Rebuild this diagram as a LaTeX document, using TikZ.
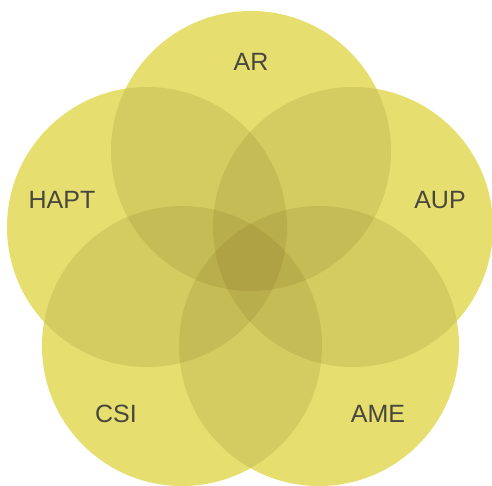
\documentclass[tikz,border=0pt]{standalone}
\usepackage{fontspec}
\setmainfont{Liberation Sans}
\definecolor{basey}{RGB}{250,244,125}
\definecolor{shade}{RGB}{110,95,20}
\definecolor{labelc}{RGB}{72,70,62}
\begin{document}
\begin{tikzpicture}[x=1pt,y=-1pt,
  petal/.style={circle,minimum size=280pt,inner sep=0pt,outer sep=0pt,fill=basey,draw=none},
  tint/.style={fill=shade,fill opacity=0.14},
  lab/.style={text=labelc,font=\fontsize{25}{30}\selectfont,inner sep=0pt}]
\useasboundingbox (0,0) rectangle (492,485);
\clip (0,0) rectangle (492,485);
\node[petal] (ar) at (251,151) {};
\node[petal] (hapt) at (147,227) {};
\node[petal] (aup) at (353,227) {};
\node[petal] (csi) at (182,346) {};
\node[petal] (ame) at (319,346) {};
\foreach \c in {ar,hapt,aup,csi,ame}{
  \fill[tint] (\c.center) circle[radius=140pt];
}
\node[lab] (tar) at (251,62) {AR};
\node[lab] (thapt) at (62,200) {HAPT};
\node[lab] (taup) at (440,200) {AUP};
\node[lab] (tcsi) at (116,414) {CSI};
\node[lab] (tame) at (378,414) {AME};
\end{tikzpicture}
\end{document}
